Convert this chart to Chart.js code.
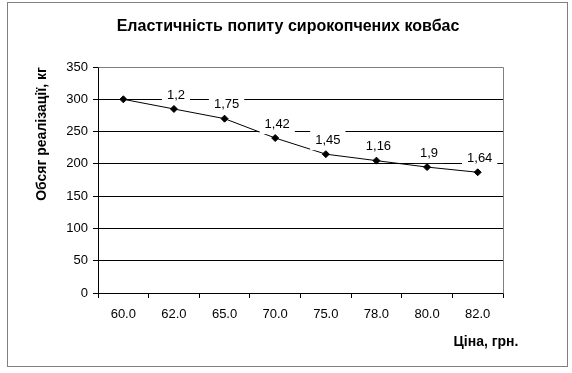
<!DOCTYPE html>
<html>
<head>
<meta charset="utf-8">
<script src="https://cdn.jsdelivr.net/npm/chart.js@4/dist/chart.umd.min.js"></script>
<style>
  html, body { margin: 0; padding: 0; background: #fff; }
  #wrap { width: 572px; height: 373px; position: relative; }
</style>
</head>
<body>
<div id="wrap"><canvas id="c" width="572" height="373"></canvas></div>
<script>
// ---- data ----
const titleText = 'Еластичність попиту сирокопчених ковбас';
const yTitle = 'Обсяг реалізації, кг';
const xTitle = 'Ціна, грн.';
const prices = ['60.0', '62.0', '65.0', '70.0', '75.0', '78.0', '80.0', '82.0'];
const volumes = [300, 285, 270, 240, 215, 205, 195, 187];
const elasticity = ['', '1,2', '1,75', '1,42', '1,45', '1,16', '1,9', '1,64'];

const FONT = "'Liberation Sans', Arial, sans-serif";

const decor = {
  id: 'decor',
  beforeDraw(chart) {
    const ctx = chart.ctx;
    ctx.save();
    ctx.fillStyle = '#fff';
    ctx.fillRect(0, 0, chart.width, chart.height);
    ctx.strokeStyle = '#808080';
    ctx.lineWidth = 1;
    ctx.strokeRect(7.5, 2.5, 560, 364);
    ctx.restore();
  },
  beforeDatasetsDraw(chart) {
    const ctx = chart.ctx, a = chart.chartArea;
    ctx.save();
    ctx.strokeStyle = '#808080';
    ctx.lineWidth = 1;
    ctx.beginPath();
    ctx.moveTo(Math.round(a.left) + 0.5, Math.round(a.top) + 0.5);
    ctx.lineTo(Math.round(a.right) + 0.5, Math.round(a.top) + 0.5);
    ctx.lineTo(Math.round(a.right) + 0.5, Math.round(a.bottom) + 0.5);
    ctx.stroke();
    ctx.restore();
  },
  afterDatasetsDraw(chart) {
    const ctx = chart.ctx;
    const meta = chart.getDatasetMeta(0);
    ctx.save();
    ctx.font = '13px ' + FONT;
    ctx.textAlign = 'center';
    ctx.textBaseline = 'middle';
    meta.data.forEach((pt, i) => {
      const t = elasticity[i];
      if (!t) return;
      const w = ctx.measureText(t).width;
      const cx = pt.x + 2, cy = pt.y - 14;
      ctx.fillStyle = '#fff';
      ctx.fillRect(cx - w / 2 - 5, cy - 10, w + 10, 20);
      ctx.fillStyle = '#000';
      ctx.fillText(t, cx, cy);
    });
    // titles
    ctx.fillStyle = '#000';
    ctx.font = 'bold 16px ' + FONT;
    ctx.fillText(titleText, 288, 27);
    ctx.font = 'bold 14px ' + FONT;
    ctx.fillText(xTitle, 486, 342);
    ctx.translate(42, 134);
    ctx.rotate(-Math.PI / 2);
    ctx.fillText(yTitle, 0, 0);
    ctx.restore();
  }
};

new Chart(document.getElementById('c'), {
  type: 'line',
  data: {
    labels: prices,
    datasets: [{
      data: volumes,
      borderColor: '#000',
      borderWidth: 1,
      backgroundColor: '#000',
      pointStyle: 'rectRot',
      pointRadius: 3.5,
      pointBorderWidth: 1,
      pointBackgroundColor: '#000',
      pointBorderColor: '#000',
      tension: 0,
      fill: false
    }]
  },
  options: {
    responsive: false,
    animation: false,
    devicePixelRatio: 1,
    layout: { padding: { left: 0, right: 69, top: 67, bottom: 0 } },
    plugins: { legend: { display: false }, title: { display: false }, tooltip: { enabled: false } },
    scales: {
      x: {
        offset: true,
        afterFit(s) { s.height = 80; },
        grid: { offset: true, drawOnChartArea: false, drawTicks: true, tickLength: 5, color: '#000' },
        border: { display: true, color: '#000' },
        ticks: { color: '#000', font: { family: FONT, size: 13 }, padding: 9, maxRotation: 0 }
      },
      y: {
        min: 0, max: 350,
        afterFit(s) { s.width = 98; },
        grid: {
          color: (c) => (c.tick && c.tick.value === 350) ? '#808080' : '#000',
          tickColor: '#000',
          drawTicks: true, tickLength: 5
        },
        border: { display: true, color: '#000' },
        ticks: { stepSize: 50, color: '#000', font: { family: FONT, size: 13 }, padding: 5 }
      }
    }
  },
  plugins: [decor]
});
</script>
</body>
</html>
